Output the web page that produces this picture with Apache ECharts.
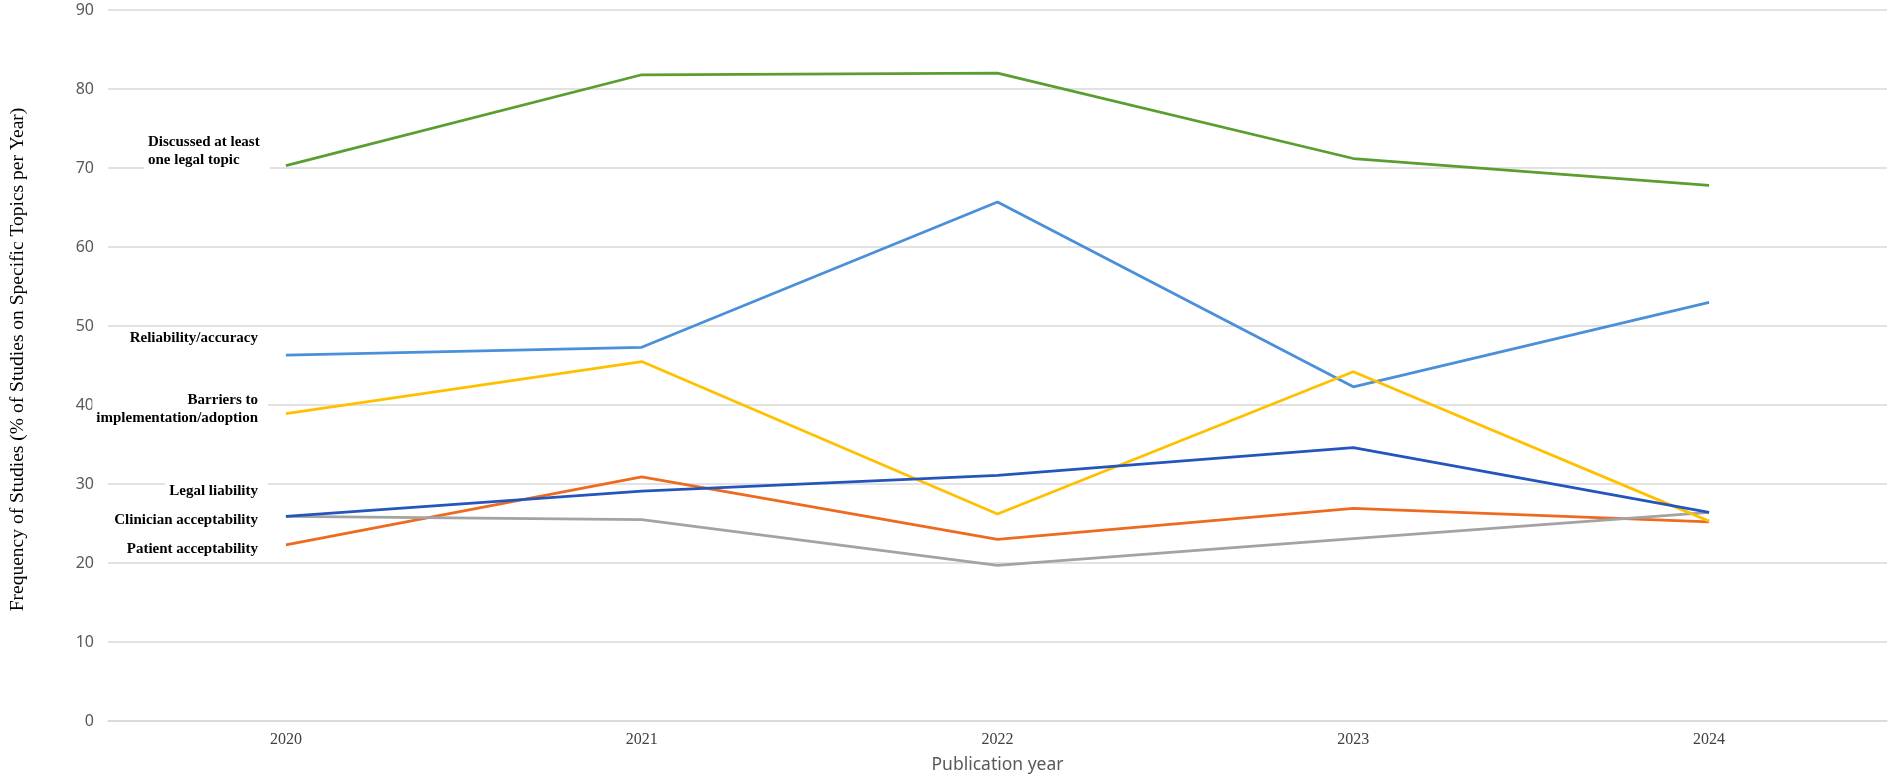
<!DOCTYPE html>
<html>
<head>
<meta charset="utf-8">
<script src="https://cdn.jsdelivr.net/npm/echarts@6/dist/echarts.min.js"></script>
<style>
html,body{margin:0;padding:0;background:#fff;}
#chart{width:1893px;height:782px;}
</style>
</head>
<body>
<div id="chart"></div>
<script>
// publication years (x axis)
var years = ['2020', '2021', '2022', '2023', '2024'];

// % of studies per year
var discussedLegal = [70.3, 81.8, 82.0, 71.2, 67.8];
var reliability = [46.3, 47.3, 65.7, 42.3, 53.0];
var barriers = [38.9, 45.5, 26.2, 44.2, 25.3];
var legalLiability = [25.9, 29.1, 31.1, 34.6, 26.4];
var clinicianAcc = [25.9, 25.5, 19.7, 23.1, 26.4];
var patientAcc = [22.3, 30.9, 23.0, 26.9, 25.2];

var labelFont = 'bold 15px "Liberation Serif", "Times New Roman", serif';

function mkLine(name, data, color) {
    return {
        name: name,
        type: 'line',
        data: data,
        symbol: 'none',
        lineStyle: {color: color, width: 2.75},
        itemStyle: {color: color}
    };
}

// text labels at the left of the lines (white box hides the grid line)
function mkLabel(text, x, y, align) {
    return {
        type: 'text',
        x: x,
        y: y,
        z: 100,
        style: {
            text: text,
            font: labelFont,
            fill: '#000',
            align: align,
            verticalAlign: 'middle',
            lineHeight: 18,
            backgroundColor: '#fff',
            padding: [1, 10, 1, 4]
        }
    };
}

var chart = echarts.init(document.getElementById('chart'));

var option = {
    backgroundColor: '#fff',
    animation: false,
    grid: {left: 94, right: 6, top: 10, bottom: 61},
    xAxis: {
        type: 'category',
        data: years,
        boundaryGap: true,
        axisLine: {show: true, lineStyle: {color: '#d9d9d9', width: 1.5}},
        axisTick: {show: false},
        axisLabel: {
            fontFamily: '"Liberation Serif", serif',
            fontSize: 16,
            color: '#404040',
            margin: 11
        },
        name: 'Publication year',
        nameLocation: 'middle',
        nameGap: 35,
        nameTextStyle: {fontFamily: '"Noto Sans", sans-serif', fontSize: 17.5, color: '#595959'}
    },
    yAxis: {
        type: 'value',
        min: 0,
        max: 90,
        interval: 10,
        axisLine: {show: false},
        axisTick: {show: false},
        axisLabel: {fontFamily: '"Noto Sans", sans-serif', fontSize: 16, color: '#595959', margin: 14},
        splitLine: {lineStyle: {color: '#d9d9d9', width: 1.5}},
        name: 'Frequency of Studies (% of Studies on Specific Topics per Year)',
        nameLocation: 'middle',
        nameGap: 80,
        nameTextStyle: {
            fontFamily: '"Liberation Serif", serif',
            fontSize: 19.5,
            color: '#000',
            padding: [0, 0, 0, 12]
        }
    },
    series: [
        mkLine('Reliability/accuracy', reliability, '#4a90d9'),
        mkLine('Patient acceptability', patientAcc, '#ee6a1f'),
        mkLine('Clinician acceptability', clinicianAcc, '#a3a3a3'),
        mkLine('Barriers to implementation/adoption', barriers, '#ffc000'),
        mkLine('Legal liability', legalLiability, '#2455bd'),
        mkLine('Discussed at least one legal topic', discussedLegal, '#5a9e2f')
    ],
    graphic: [
        mkLabel('Discussed at least\none legal topic', 144, 151, 'left'),
        mkLabel('Reliability/accuracy', 268, 338, 'right'),
        mkLabel('Barriers to\nimplementation/adoption', 268, 409, 'right'),
        mkLabel('Legal liability', 268, 491, 'right'),
        mkLabel('Clinician acceptability', 268, 520, 'right'),
        mkLabel('Patient acceptability', 268, 549, 'right')
    ]
};

chart.setOption(option);
</script>
</body>
</html>
